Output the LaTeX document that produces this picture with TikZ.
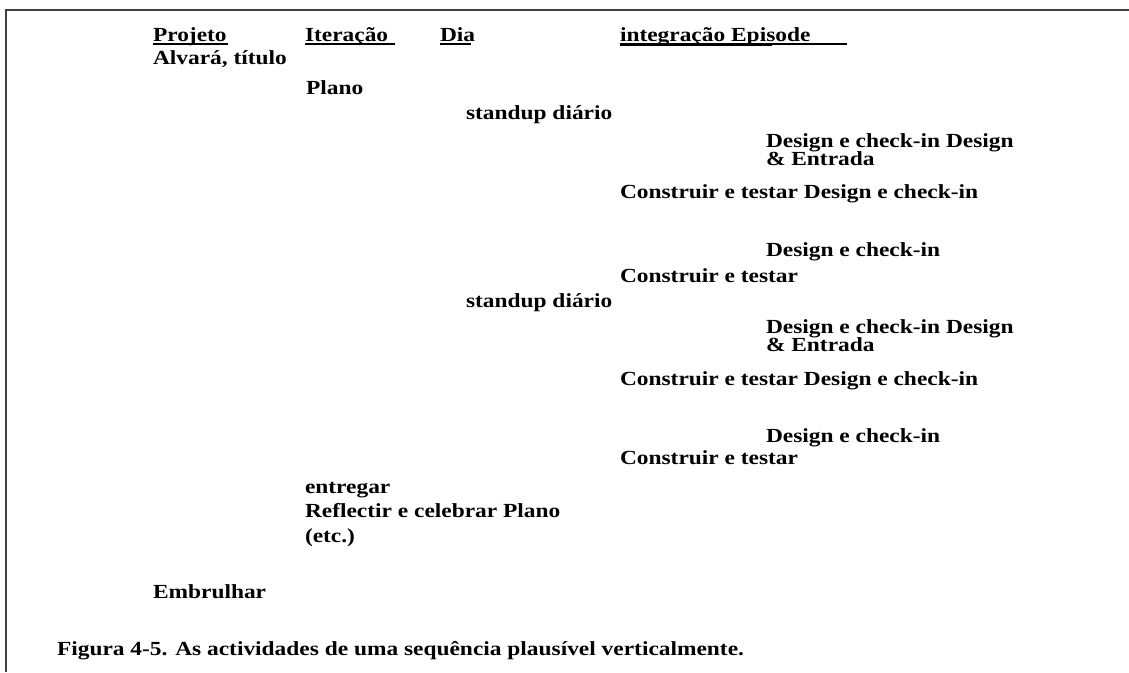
\documentclass[tikz,border=0pt]{standalone}
\usepackage{fontspec}
\setmainfont{Liberation Serif}[FakeStretch=1.17]
\begin{document}
\begin{tikzpicture}[x=1pt,y=-1pt,
  txt/.style={anchor=base west,inner sep=0pt,outer sep=0pt,font=\fontsize{20}{20}\selectfont\bfseries},
  uline/.style={line width=1.2pt,black},
  frame/.style={line width=1.6pt,black!75}]
\useasboundingbox (0,0) rectangle (1129,672);
\draw[frame] (6,672) -- (6,10) -- (1129,10);
% header
\node[txt] (h1) at (153,41) {Projeto};
\node[txt] (h2) at (305,41) {Iteração};
\node[txt] (h3) at (440,41) {Dia};
\node[txt] (h4) at (620,41) {integração Episode};
\draw[uline] (h1.base west) ++(0,3) -- (228,44);
\draw[uline] (h2.base west) ++(0,3) -- (395,44);
\draw[uline] (h3.base west) ++(0,3) -- (471,44);
\draw[uline] (h4.base west) ++(0,3) -- (847,44);
\draw[line width=2.6pt] (h4.base west) ++(0,3.6) -- (772,44.6);
% body
\node[txt] (a1) at (153,64) {Alvará, título};
\node[txt] (a2) at (306,94) {Plano};
\node[txt] (a3) at (466,119) {standup diário};
\node[txt] (a4) at (766,147) {Design e check-in Design};
\node[txt] (a5) at (766,165) {\& Entrada};
\node[txt] (a6) at (620,198) {Construir e testar Design e check-in};
\node[txt] (a7) at (766,256) {Design e check-in};
\node[txt] (a8) at (620,282) {Construir e testar};
\node[txt] (a9) at (466,307) {standup diário};
\node[txt] (a10) at (766,333) {Design e check-in Design};
\node[txt] (a11) at (766,351) {\& Entrada};
\node[txt] (a12) at (620,385) {Construir e testar Design e check-in};
\node[txt] (a13) at (766,442) {Design e check-in};
\node[txt] (a14) at (620,464) {Construir e testar};
\node[txt] (a15) at (305,493) {entregar};
\node[txt] (a16) at (305,517) {Reflectir e celebrar Plano};
\node[txt] (a17) at (305,542) {(etc.)};
\node[txt] (a18) at (153,598) {Embrulhar};
\node[txt] (cap) at (57,655) {Figura 4-5. As actividades de uma sequência plausível verticalmente.};
\end{tikzpicture}
\end{document}
